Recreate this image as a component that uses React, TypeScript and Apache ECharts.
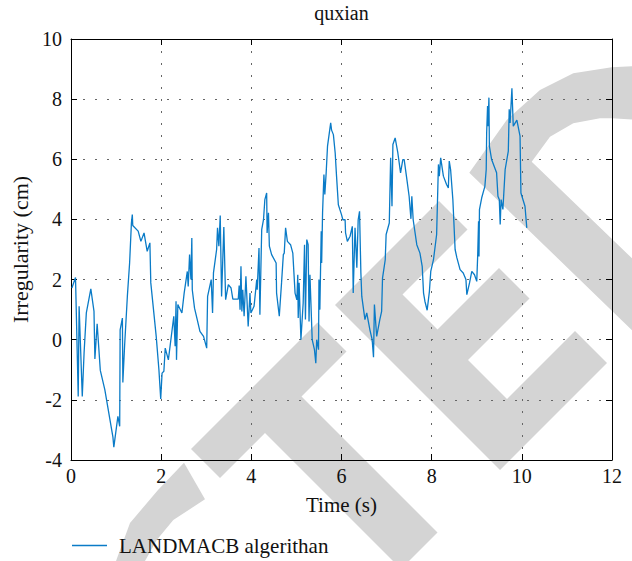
import React, { useEffect, useRef } from "react";
import * as echarts from "echarts";

const chartTitle = "quxian";
const seriesName = "LANDMACB algerithan";
const xAxisName = "Time (s)";
const yAxisName = "Irregularity (cm)";

const xMin = 0;
const xMax = 12;
const xStep = 2;
const yMin = -4;
const yMax = 10;
const yStep = 2;

const timeSec = [
  0.02, 0.1, 0.16, 0.18, 0.25, 0.29, 0.34, 0.44, 0.51, 0.53, 0.58, 0.65, 0.75, 0.93, 0.95, 1.04, 1.08, 1.09, 1.14, 1.15,
  1.19, 1.25, 1.3, 1.34, 1.36, 1.37, 1.49, 1.55, 1.62, 1.69, 1.75, 1.77, 1.89, 1.95, 1.99, 2.02, 2.06, 2.09, 2.16, 2.28,
  2.31, 2.33, 2.34, 2.37, 2.46, 2.51, 2.58, 2.6, 2.63, 2.66, 2.68, 2.69, 2.74, 2.8, 2.86, 2.94, 3.01, 3.03, 3.11, 3.14,
  3.16, 3.23, 3.25, 3.28, 3.31, 3.34, 3.39, 3.43, 3.49, 3.55, 3.59, 3.71, 3.73, 3.75, 3.77, 3.79, 3.81, 3.84, 3.88, 3.93,
  3.97, 3.99, 4.06, 4.12, 4.13, 4.17, 4.19, 4.23, 4.27, 4.3, 4.34, 4.35, 4.38, 4.4, 4.45, 4.55, 4.56, 4.62, 4.67, 4.71,
  4.73, 4.76, 4.8, 4.87, 4.92, 4.97, 5.01, 5.03, 5.04, 5.06, 5.1, 5.15, 5.18, 5.2, 5.23, 5.26, 5.28, 5.3, 5.35, 5.4,
  5.43, 5.45, 5.49, 5.5, 5.52, 5.55, 5.56, 5.58, 5.61, 5.63, 5.66, 5.69, 5.73, 5.76, 5.78, 5.82, 5.86, 5.89, 5.93, 6.0,
  6.03, 6.08, 6.09, 6.13, 6.19, 6.24, 6.26, 6.3, 6.34, 6.37, 6.4, 6.43, 6.45, 6.52, 6.56, 6.63, 6.68, 6.71, 6.73, 6.78,
  6.85, 6.89, 6.91, 6.97, 6.99, 7.06, 7.09, 7.12, 7.14, 7.19, 7.25, 7.31, 7.36, 7.39, 7.45, 7.5, 7.54, 7.56, 7.59, 7.67,
  7.74, 7.79, 7.82, 7.85, 7.9, 7.95, 7.98, 8.04, 8.11, 8.15, 8.17, 8.2, 8.26, 8.33, 8.37, 8.39, 8.42, 8.47, 8.52, 8.56,
  8.63, 8.7, 8.76, 8.78, 8.84, 8.89, 8.95, 9.0, 9.02, 9.04, 9.05, 9.06, 9.11, 9.18, 9.21, 9.22, 9.24, 9.25, 9.27, 9.28,
  9.33, 9.44, 9.47, 9.5, 9.52, 9.54, 9.58, 9.63, 9.7, 9.72, 9.74, 9.78, 9.81, 9.89, 9.96, 9.98, 10.07, 10.11,
];

const irregularityCm = [
  1.72, 2.07, -1.89, 1.11, -1.89, -0.44, 0.89, 1.69, 0.94, -0.64, 0.53, -1.02, -1.66, -3.24, -3.57, -2.55, -2.88, 0.33, 0.72, -1.42,
  -0.17, 1.44, 2.55, 3.88, 4.16, 3.8, 3.61, 3.27, 3.55, 2.94, 3.22, 1.89, 0.11, -1.0, -1.97, -1.11, -1.05, -0.28, -0.67, 0.78,
  -0.22, 1.28, -0.67, 1.17, 0.89, 1.55, 2.27, 1.77, 2.83, 2.0, 3.38, 1.66, 1.05, 0.67, 0.28, 0.11, -0.28, 1.44, 2.0, 0.89,
  2.22, 3.0, 3.72, 3.11, 4.13, 1.44, 3.75, 1.33, 1.83, 1.72, 1.35, 1.35, 1.8, 1.0, 2.44, 0.94, 1.66, 0.78, 2.11, 0.44,
  1.55, 0.89, 1.11, 2.0, 1.66, 3.05, 0.83, 3.66, 3.99, 4.66, 4.88, 3.55, 4.22, 3.11, 2.83, 2.55, 1.55, 0.78, 1.89, 2.83,
  2.88, 3.72, 3.27, 3.16, 2.88, 1.55, 1.33, 2.16, 0.72, 1.89, 0.0, 1.22, 3.16, 0.67, 3.33, 3.16, 0.61, 2.16, 0.0, -0.33,
  -0.78, 0.0, -0.33, 2.0, 1.0, 3.61, 2.55, 4.22, 5.49, 4.83, 5.55, 6.44, 6.88, 7.21, 6.97, 6.82, 6.21, 5.44, 4.49, 4.16,
  3.99, 3.99, 3.55, 3.27, 3.44, 3.77, 1.55, 3.72, 2.39, 3.99, 4.27, 2.22, 1.44, 0.67, 0.89, 0.33, 0.0, -0.58, 1.17, 0.11,
  0.67, 0.94, 2.05, 2.66, 3.5, 3.88, 6.05, 4.44, 6.49, 6.71, 6.21, 5.55, 5.99, 5.99, 5.33, 4.77, 4.02, 4.77, 3.99, 3.16,
  2.88, 2.44, 1.55, 1.28, 0.98, 1.61, 2.27, 2.66, 3.5, 5.83, 5.44, 6.05, 5.44, 5.16, 5.05, 5.94, 5.66, 4.66, 3.0, 2.72,
  2.33, 2.22, 2.0, 1.5, 1.89, 2.27, 2.16, 1.94, 2.77, 3.94, 2.77, 4.33, 4.72, 5.1, 5.66, 6.88, 7.77, 7.1, 8.05, 6.44,
  5.99, 5.55, 4.77, 4.66, 3.83, 4.66, 4.33, 5.66, 6.27, 7.66, 7.21, 8.36, 7.1, 7.3, 6.77, 4.88, 4.44, 3.72,
];

// Background watermark letters ("...CTED", rotated), drawn beneath the plot
const wmColor = "#d4d4d4";
const wmC = [
  [184, 462.7], [158, 490], [130, 523], [116, 561], [110, 590],
  [138, 590], [145, 561], [156.7, 540], [173.3, 520], [205, 499.3],
];
const wmT = [
  [191, 449], [317.5, 322.5], [346.5, 351.5], [301.5, 396.5], [437.5, 532.5],
  [401, 569], [265, 433], [220, 478],
];
const wmE = [
  [335, 305], [439, 201], [467.5, 229.5], [402.5, 294.5], [437.5, 329.5], [499, 268],
  [529.5, 298.5], [468, 360], [507, 399], [575, 331], [607, 363], [500, 470],
];
const wmD = [
  [640, 338], [469.3, 172.7], [506.7, 120], [540, 90], [573.3, 73.3], [611.7, 67.3], [640, 66],
  [640, 120], [611.7, 118.3], [600, 118.3], [573.3, 123.3], [550, 136.7], [531.7, 161.7], [640, 266],
];

const FONT = "'Liberation Serif', 'Times New Roman', serif";
const TEXT = "#111111";
const LINE = "#0a7bc7";

export default function App() {
  const ref = useRef<HTMLDivElement>(null);

  useEffect(() => {
    if (!ref.current) return;
    const chart = echarts.init(ref.current, null, { renderer: "svg" });
    const data = timeSec.map((t, i) => [t, irregularityCm[i]]);
    const wm = (pts: number[][]) => ({
      type: "polygon",
      shape: { points: pts },
      style: { fill: wmColor },
      z: -10,
      silent: true,
    });
    const boxAxis = {
      axisLine: { show: true, onZero: false, lineStyle: { color: "#000", width: 1 } },
      axisTick: { show: true, inside: true, length: 6, lineStyle: { color: "#000", width: 1 } },
    };
    chart.setOption({
      animation: false,
      backgroundColor: "#ffffff",
      textStyle: { fontFamily: FONT, color: TEXT },
      grid: { left: 71, right: 20, top: 39, bottom: 101, containLabel: false },
      graphic: [
        wm(wmC),
        wm(wmT),
        wm(wmE),
        wm(wmD),
        {
          type: "text",
          x: 341.5,
          y: 13,
          z: 10,
          style: {
            text: chartTitle,
            fill: TEXT,
            font: `20px ${FONT}`,
            textAlign: "center",
            textVerticalAlign: "middle",
          },
        },
      ],
      legend: {
        data: [{ name: seriesName, icon: "rect" }],
        left: 72,
        top: 535,
        padding: 0,
        itemWidth: 35,
        itemHeight: 1.5,
        itemStyle: { color: LINE },
        textStyle: { fontFamily: FONT, fontSize: 21, color: TEXT, padding: [0, 0, 0, 7] },
      },
      xAxis: [
        {
          type: "value",
          min: xMin,
          max: xMax,
          interval: xStep,
          position: "bottom",
          ...boxAxis,
          axisLabel: { color: TEXT, fontFamily: FONT, fontSize: 20, margin: 6 },
          splitLine: { show: true, lineStyle: { type: [2, 10], color: "#666", width: 1 } },
          name: xAxisName,
          nameLocation: "middle",
          nameGap: 34,
          nameTextStyle: { color: TEXT, fontFamily: FONT, fontSize: 21, verticalAlign: "top" },
        },
        {
          type: "value",
          min: xMin,
          max: xMax,
          interval: xStep,
          position: "top",
          ...boxAxis,
          axisLabel: { show: false },
          splitLine: { show: false },
        },
      ],
      yAxis: [
        {
          type: "value",
          min: yMin,
          max: yMax,
          interval: yStep,
          position: "left",
          ...boxAxis,
          axisLabel: { color: TEXT, fontFamily: FONT, fontSize: 20, margin: 9 },
          splitLine: { show: true, lineStyle: { type: [2, 10], color: "#666", width: 1 } },
          name: yAxisName,
          nameLocation: "middle",
          nameGap: 36,
          nameTextStyle: { color: TEXT, fontFamily: FONT, fontSize: 22 },
        },
        {
          type: "value",
          min: yMin,
          max: yMax,
          interval: yStep,
          position: "right",
          ...boxAxis,
          axisLabel: { show: false },
          splitLine: { show: false },
        },
      ],
      series: [
        {
          name: seriesName,
          type: "line",
          xAxisIndex: 0,
          yAxisIndex: 0,
          data,
          symbol: "none",
          lineStyle: { color: LINE, width: 1.3 },
          itemStyle: { color: LINE },
          z: 5,
        },
      ],
    });
    return () => chart.dispose();
  }, []);

  return (
    <div
      ref={ref}
      style={{ position: "fixed", left: 0, top: 0, width: 632, height: 561, background: "#fff" }}
    />
  );
}
